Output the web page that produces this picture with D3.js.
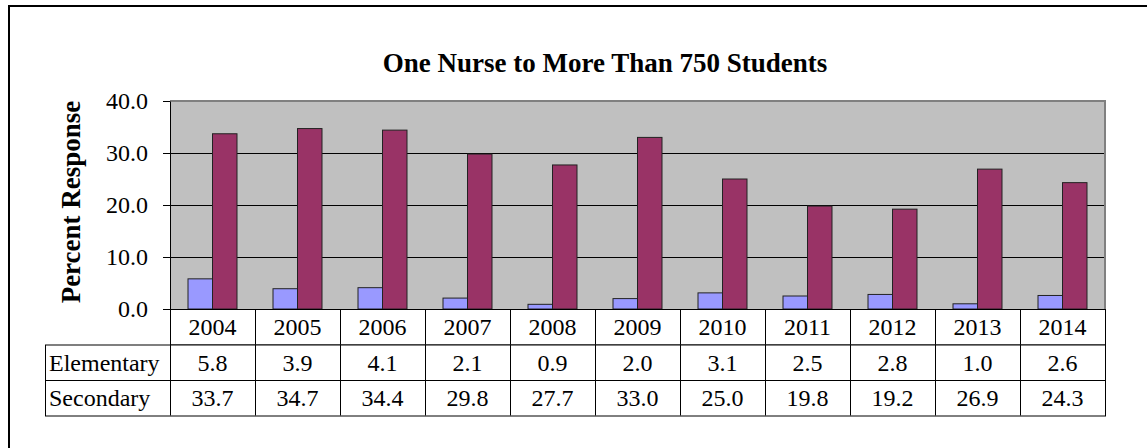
<!DOCTYPE html>
<html>
<head>
<meta charset="utf-8">
<script src="https://cdn.jsdelivr.net/npm/d3@7"></script>
<style>
  body { margin: 0; background: #fff; }
  text { font-family: "Liberation Serif", "Times New Roman", serif; fill: #000; }
  .title, .ylabel { font-weight: bold; }
</style>
</head>
<body>
<div id="chart"></div>
<script>
// data
const years = ["2004", "2005", "2006", "2007", "2008", "2009", "2010", "2011", "2012", "2013", "2014"];
const seriesNames = ["Elementary", "Secondary"];
const elementary = [5.8, 3.9, 4.1, 2.1, 0.9, 2.0, 3.1, 2.5, 2.8, 1.0, 2.6];
const secondary = [33.7, 34.7, 34.4, 29.8, 27.7, 33.0, 25.0, 19.8, 19.2, 26.9, 24.3];
const yTicks = [0, 10, 20, 30, 40];
const colors = ["#9999FF", "#993366"];

const width = 1147, height = 448;
const plot = {left: 170, right: 1105, top: 101, bottom: 309};
const rowH = 35.5;
const labelColLeft = 45;

var svg = d3.select("#chart").append("svg")
  .attr("width", width)
  .attr("height", height);

// outer frame (only top and left visible)
svg.append("path")
  .attr("d", "M9," + height + "V6H" + width)
  .attr("fill", "none")
  .attr("stroke", "#000")
  .attr("stroke-width", 2);

var x0 = d3.scaleBand()
  .domain(years)
  .range([plot.left, plot.right]);

var x1 = d3.scaleBand()
  .domain(seriesNames)
  .range([0, x0.bandwidth()])
  .paddingOuter(0.735);

var y = d3.scaleLinear()
  .domain([0, 40])
  .range([plot.bottom, plot.top]);

// plot background
svg.append("rect")
  .attr("x", plot.left)
  .attr("y", plot.top)
  .attr("width", plot.right - plot.left)
  .attr("height", plot.bottom - plot.top)
  .attr("fill", "#C0C0C0");

// gridlines
svg.selectAll(".grid")
  .data(yTicks.filter(function(d) { return d > 0 && d < 40; }))
  .enter().append("line")
    .attr("x1", plot.left)
    .attr("x2", plot.right)
    .attr("y1", function(d) { return y(d) + 0.5; })
    .attr("y2", function(d) { return y(d) + 0.5; })
    .attr("stroke", "#000")
    .attr("stroke-width", 1);

// top / right border of plot area
svg.append("path")
  .attr("d", "M" + plot.left + "," + plot.top + "H" + plot.right + "V" + plot.bottom)
  .attr("fill", "none")
  .attr("stroke", "#808080")
  .attr("stroke-width", 2);

// bars
var rows = years.map(function(yr, i) {
  return {year: yr, values: [elementary[i], secondary[i]]};
});

var groups = svg.selectAll(".group")
  .data(rows)
  .enter().append("g")
    .attr("class", "group")
    .attr("transform", function(d) { return "translate(" + x0(d.year) + ",0)"; });

groups.selectAll("rect")
  .data(function(d) { return d.values.map(function(v, j) { return {name: seriesNames[j], value: v, j: j}; }); })
  .enter().append("rect")
    .attr("x", function(d) { return x1(d.name); })
    .attr("y", function(d) { return y(d.value); })
    .attr("width", x1.bandwidth())
    .attr("height", function(d) { return y(0) - y(d.value); })
    .attr("fill", function(d) { return colors[d.j]; })
    .attr("stroke", "#222")
    .attr("stroke-width", 1);

// y axis
var yAxis = d3.axisLeft(y)
  .tickValues(yTicks)
  .tickSize(7)
  .tickSizeOuter(0)
  .tickPadding(15)
  .tickFormat(d3.format(".1f"));

var yg = svg.append("g")
  .attr("transform", "translate(" + plot.left + ",0)")
  .call(yAxis);
yg.selectAll("path, line").attr("stroke", "#000");
yg.selectAll("text")
  .attr("fill", "#000")
  .style("font-family", "'Liberation Serif', 'Times New Roman', serif")
  .style("font-size", "24px");

// title
svg.append("text")
  .attr("class", "title")
  .attr("x", 605)
  .attr("y", 72)
  .attr("text-anchor", "middle")
  .style("font-size", "27px")
  .text("One Nurse to More Than 750 Students");

// y label
svg.append("text")
  .attr("class", "ylabel")
  .attr("transform", "translate(80," + 202 + ") rotate(-90)")
  .attr("text-anchor", "middle")
  .style("font-size", "27px")
  .text("Percent Response");

// data table
var table = svg.append("g").attr("class", "table");
var tableRows = [
  {label: null, cells: years},
  {label: seriesNames[0], cells: elementary.map(function(v) { return v.toFixed(1); })},
  {label: seriesNames[1], cells: secondary.map(function(v) { return v.toFixed(1); })}
];

tableRows.forEach(function(r, i) {
  var top = plot.bottom + i * rowH;
  var left = r.label ? labelColLeft : plot.left;
  // cell borders
  table.append("rect")
    .attr("x", left + 0.5)
    .attr("y", top + 0.5)
    .attr("width", plot.right - left)
    .attr("height", rowH)
    .attr("fill", "#fff")
    .attr("stroke", "#000")
    .attr("stroke-width", 1);
  table.selectAll(".sep" + i)
    .data(years)
    .enter().append("line")
      .attr("x1", function(d) { return Math.round(x0(d)) + 0.5; })
      .attr("x2", function(d) { return Math.round(x0(d)) + 0.5; })
      .attr("y1", top)
      .attr("y2", top + rowH)
      .attr("stroke", "#000");
  if (r.label) {
    table.append("text")
      .attr("x", labelColLeft + 4)
      .attr("y", top + rowH / 2 + 8.5)
      .style("font-size", "24px")
      .text(r.label);
  }
  table.selectAll(".cell" + i)
    .data(r.cells)
    .enter().append("text")
      .attr("x", function(d, k) { return x0(years[k]) + x0.bandwidth() / 2; })
      .attr("y", top + rowH / 2 + 8.5)
      .attr("text-anchor", "middle")
      .style("font-size", "24px")
      .text(function(d) { return d; });
});

// x axis line on top of the table row
svg.append("line")
  .attr("x1", plot.left)
  .attr("x2", plot.right)
  .attr("y1", plot.bottom + 0.5)
  .attr("y2", plot.bottom + 0.5)
  .attr("stroke", "#000");
</script>
</body>
</html>
